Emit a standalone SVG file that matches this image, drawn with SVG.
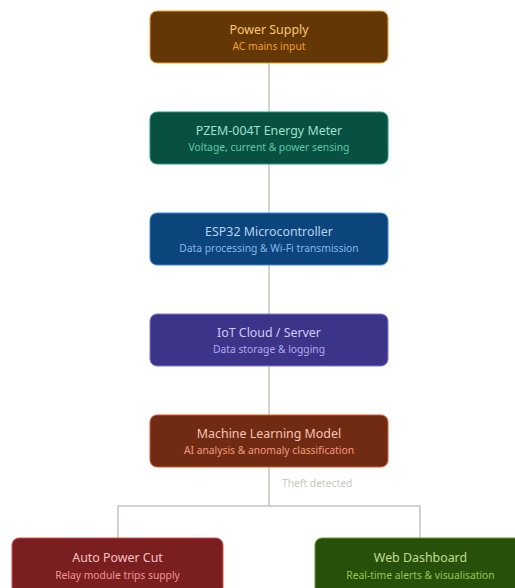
<svg xmlns="http://www.w3.org/2000/svg" width="515" height="588" viewBox="0 0 515 588">
<style>
.t{font-family:"Segoe UI","Noto Sans","Liberation Sans",sans-serif;font-size:12.4px;text-anchor:middle}
.s{font-family:"Segoe UI","Noto Sans","Liberation Sans",sans-serif;font-size:10.3px;text-anchor:middle}
.box{stroke-width:1}
.ln{fill:none;stroke:#c6c4bc;stroke-width:1.5}
.lab{font-family:"Segoe UI","Noto Sans","Liberation Sans",sans-serif;font-size:10.3px;fill:#c9c7c0}
</style>
<rect width="515" height="588" fill="#ffffff"/>
<g id="connectors">
<line class="ln" x1="269" y1="63" x2="269" y2="112"/>
<line class="ln" x1="269" y1="164" x2="269" y2="213"/>
<line class="ln" x1="269" y1="265" x2="269" y2="314"/>
<line class="ln" x1="269" y1="366" x2="269" y2="415"/>
<line class="ln" x1="269" y1="467" x2="269" y2="506"/>
<polyline class="ln" points="118,538 118,506 420,506 420,538"/>
<text class="lab" x="282" y="487">Theft detected</text>
</g>
<g id="power">
<rect class="box" x="150" y="11" width="238" height="52" rx="7" fill="#633806" stroke="#ef9f27"/>
<text class="t" x="269" y="34" fill="#fac775">Power Supply</text>
<text class="s" x="269" y="50" fill="#ef9f27">AC mains input</text>
</g>
<g id="meter">
<rect class="box" x="150" y="112" width="238" height="52" rx="7" fill="#085041" stroke="#1d9e75"/>
<text class="t" x="269" y="135" fill="#9fe1cb">PZEM-004T Energy Meter</text>
<text class="s" x="269" y="151" fill="#5dcaa5">Voltage, current &amp; power sensing</text>
</g>
<g id="esp32">
<rect class="box" x="150" y="213" width="238" height="52" rx="7" fill="#0c447c" stroke="#378add"/>
<text class="t" x="269" y="236" fill="#b5d4f4">ESP32 Microcontroller</text>
<text class="s" x="269" y="252" fill="#85b7eb">Data processing &amp; Wi-Fi transmission</text>
</g>
<g id="cloud">
<rect class="box" x="150" y="314" width="238" height="52" rx="7" fill="#3c3489" stroke="#7f77dd"/>
<text class="t" x="269" y="337" fill="#cecbf6">IoT Cloud / Server</text>
<text class="s" x="269" y="353" fill="#afa9ec">Data storage &amp; logging</text>
</g>
<g id="ml">
<rect class="box" x="150" y="415" width="238" height="52" rx="7" fill="#712b13" stroke="#d85a30"/>
<text class="t" x="269" y="438" fill="#f5c4b3">Machine Learning Model</text>
<text class="s" x="269" y="454" fill="#f0997b">AI analysis &amp; anomaly classification</text>
</g>
<g id="cut">
<rect class="box" x="12" y="538" width="211" height="56" rx="7" fill="#791f1f" stroke="#e24b4a"/>
<text class="t" x="117.5" y="562" fill="#f7c1c1">Auto Power Cut</text>
<text class="s" x="117.5" y="579" fill="#f09595">Relay module trips supply</text>
</g>
<g id="dashboard">
<rect class="box" x="315" y="538" width="211" height="56" rx="7" fill="#27500a" stroke="#639922"/>
<text class="t" x="420.5" y="562" fill="#c0dd97">Web Dashboard</text>
<text class="s" x="420.5" y="579" fill="#97c459">Real-time alerts &amp; visualisation</text>
</g>
</svg>
